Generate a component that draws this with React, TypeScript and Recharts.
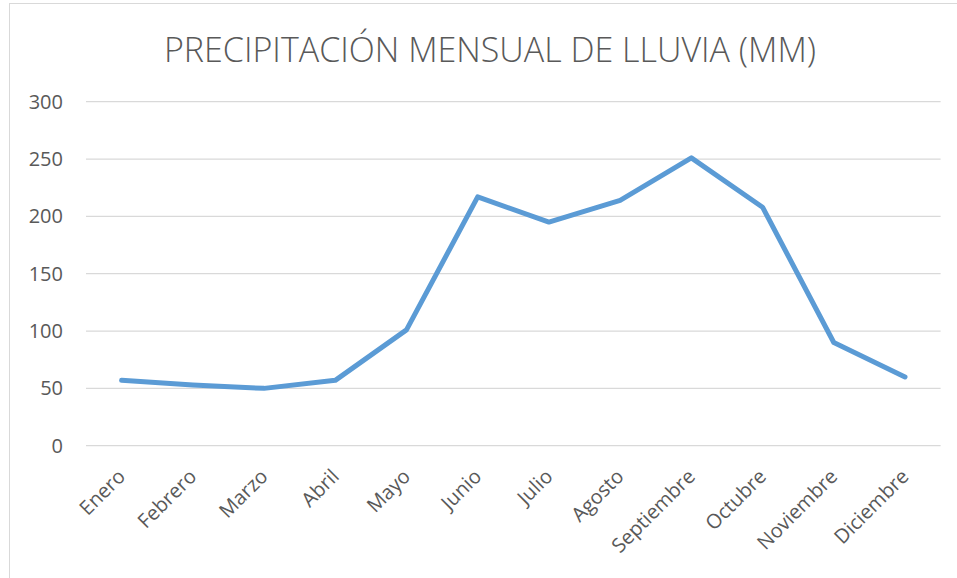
import React from "react";
import { LineChart, Line, XAxis, YAxis, CartesianGrid } from "recharts";

const MESES = [
  "Enero", "Febrero", "Marzo", "Abril", "Mayo", "Junio",
  "Julio", "Agosto", "Septiembre", "Octubre", "Noviembre", "Diciembre",
];
const LLUVIA_MM = [57, 53, 50, 57, 101, 217, 195, 214, 251, 208, 90, 60];
const Y_TICKS = [0, 50, 100, 150, 200, 250, 300];
const TITULO = "PRECIPITACIÓN MENSUAL DE LLUVIA (MM)";

const data = MESES.map((mes, i) => ({ mes, lluvia: LLUVIA_MM[i] }));

const FONT = "'Open Sans', 'Noto Sans', sans-serif";
const TEXT = "#595959";

function MesTick({ x, y, payload }: { x?: number; y?: number; payload?: { value: string } }) {
  return (
    <g transform={`translate(${(x ?? 0) + 5},${(y ?? 0) + 32})`}>
      <text transform="rotate(-45)" textAnchor="end" fill={TEXT} fontSize={20} fontFamily={FONT}>
        {payload?.value}
      </text>
    </g>
  );
}

export default function App() {
  return (
    <div style={{ position: "fixed", left: 0, top: 0, width: 957, height: 578, overflow: "hidden", background: "#fff" }}>
      {/* chart frame, runs off the right/bottom edge like the screenshot */}
      <div style={{ position: "absolute", left: 9, top: 3, width: 1000, height: 700, border: "1px solid #d9d9d9" }} />

      <svg width={957} height={80} style={{ position: "absolute", left: 0, top: 0 }}>
        <text x={490} y={62} textAnchor="middle" fill={TEXT} fontSize={34} fontWeight={300} fontFamily={FONT}>
          {TITULO}
        </text>
      </svg>

      <div style={{ position: "absolute", left: 0, top: 0 }}>
        <LineChart width={957} height={578} data={data}
          margin={{ top: 101.7, right: 16.4, bottom: 0, left: 0 }}>
          <CartesianGrid vertical={false} stroke="#d9d9d9" strokeWidth={1.3} />
          <XAxis dataKey="mes" height={132.3} axisLine={false} tickLine={false}
            tickSize={0} tickMargin={0} interval={0}
            padding={{ left: 35.6, right: 35.6 }} tick={<MesTick />} />
          <YAxis width={86} domain={[0, 300]} ticks={Y_TICKS} axisLine={false} tickLine={false}
            tickSize={0} tickMargin={23}
            tick={{ fill: TEXT, fontSize: 20, fontFamily: FONT }} />
          <Line type="linear" dataKey="lluvia" stroke="#5b9bd5" strokeWidth={5}
            strokeLinecap="round" strokeLinejoin="round"
            dot={false} activeDot={false} isAnimationActive={false} />
        </LineChart>
      </div>
    </div>
  );
}
